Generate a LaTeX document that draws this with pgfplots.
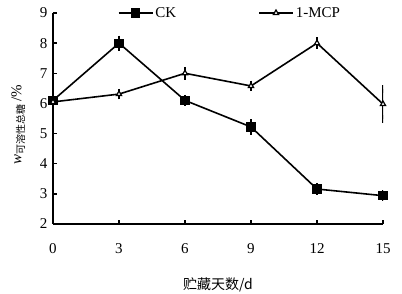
\documentclass[border=0pt]{standalone}
\usepackage{pgfplots}
\pgfplotsset{compat=1.18}
\usepackage{fontspec}
\setmainfont{Liberation Serif}
\newfontfamily\cjk{Noto Sans CJK SC}
\begin{document}
\begin{tikzpicture}
\begin{axis}[
  at={(0,0)}, anchor=south west,
  scale only axis, width=330pt, height=211pt,
  xmin=0, xmax=15, ymin=2, ymax=9,
  axis x line*=bottom, axis y line*=left,
  axis line style={line width=1.6pt, -},
  xtick={0,3,...,15}, ytick={2,3,...,9},
  tick align=inside, major tick length=4pt,
  tick style={line width=1.4pt, black},
  font=\fontsize{15}{17}\selectfont,
  /pgf/number format/assume math mode=true,
  xticklabel style={yshift=-16pt},
  yticklabel style={xshift=-2pt},
  xlabel={\cjk\fontsize{14}{16}\selectfont 贮藏天数/d},
  xlabel style={yshift=-17pt},
  ylabel={\textit{w}\raisebox{-3pt}{\cjk\fontsize{10}{11}\selectfont 可溶性总糖}\,/\%},
  ylabel style={font=\fontsize{15}{17}\selectfont, yshift=8pt, xshift=-6pt},
  legend columns=2,
  legend style={draw=none, fill=none, at={(0.536,1.0)}, anchor=center,
    font=\fontsize{15}{17}\selectfont, /tikz/every even column/.append style={column sep=80pt}},
  legend image code/.code={\draw[#1, mark repeat=2, mark phase=2] plot coordinates {(0pt,0pt) (17pt,0pt) (34pt,0pt)};},
  every axis plot/.append style={line width=1.6pt, black},
  error bars/error bar style={line width=1.4pt, black},
  error bars/error mark options={mark size=4pt, line width=1.4pt, black},
]
\addplot[mark=square*, mark size=3.8pt, mark options={solid, fill=black},
  error bars/.cd, y dir=both, y explicit]
  coordinates {(0,6.1) +- (0,0.05) (3,8.0) +- (0,0.12) (6,6.1) +- (0,0.05) (9,5.22) +- (0,0.13) (12,3.16) +- (0,0.06) (15,2.94) +- (0,0.04)};
\addlegendentry{CK}
\addplot[mark=triangle*, mark size=3pt, mark options={solid, fill=white, line width=1.2pt},
  error bars/.cd, y dir=both, y explicit]
  coordinates {(0,6.05) +- (0,0.04) (3,6.31) +- (0,0.04) (6,7.0) +- (0,0.08) (9,6.58) +- (0,0.04) (12,8.0) +- (0,0.06) (15,5.98) +- (0,0.5)};
\addlegendentry{1-MCP}
\end{axis}
\pgfresetboundingbox
\path (-53pt,-70pt) rectangle (349pt,224pt);
\end{tikzpicture}
\end{document}
